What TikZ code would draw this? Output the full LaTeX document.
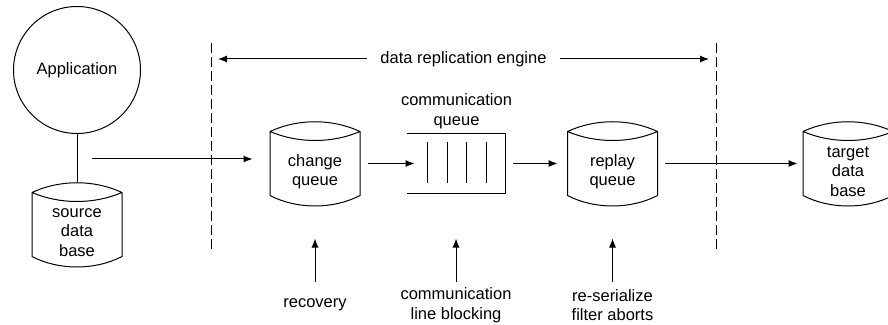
\documentclass[tikz,border=0pt]{standalone}
\usepackage{fontspec}
\setmainfont{Liberation Sans}
\usetikzlibrary{arrows.meta}

\begin{document}
\begin{tikzpicture}[x=1pt,y=1pt,line width=1pt,line join=round,
  >={Latex[length=9pt,width=7pt]},
  every node/.style={font=\fontsize{16.5}{19.5}\selectfont},
  dbase/.style={minimum width=89pt,minimum height=63pt,inner sep=0pt,
    label={[align=center,yshift=-8pt]center:{#1}}},
  note/.style={align=center,minimum height=46pt},
  boundary/.style={dash pattern=on 10pt off 4pt}]
  \useasboundingbox (0,0) rectangle (888,324);
  % application and source
  \node[circle,draw,minimum size=127pt,inner sep=0pt] (app) at (77,254) {Application};
  \node[dbase={source\\data\\base}] (src) at (77,99.5) {};
  % queues and target
  \node[dbase={change\\queue}] (chq) at (315,160.5) {};
  \node[minimum width=98pt,minimum height=59pt,inner sep=0pt] (cq) at (456,160.5) {};
  \node[align=center] (cqtxt) at (456.5,213) {communication\\queue};
  \node[dbase={replay\\queue}] (rpq) at (612.5,160.5) {};
  \node[dbase={target\\data\\base}] (tgt) at (848,160.5) {};
  \foreach \db in {src,chq,rpq,tgt}
    \draw (\db.north west) -- (\db.south west)
      .. controls +(27,-14) and +(-27,-14) .. (\db.south east) -- (\db.north east)
      .. controls +(-28,13) and +(28,13) .. (\db.north west)
      .. controls +(28,-12) and +(-28,-12) .. (\db.north east);
  \draw (cq.north west) -- (cq.north east) -- (cq.south east) -- (cq.south west);
  \foreach \dx in {-29,-9,10,30}
    \draw ([shift={(\dx,21)}]cq.center) -- ([shift={(\dx,-20)}]cq.center);
  % engine boundary
  \coordinate (dlt) at (211,281); \coordinate (dlb) at (211,72);
  \coordinate (drt) at (716.5,281); \coordinate (drb) at (716.5,72);
  \draw[boundary] (dlt) -- (dlb);
  \draw[boundary] (drt) -- (drb);
  \node[inner xsep=13pt] (eng) at (463.5,265) {data replication engine};
  \draw[->,shorten >=7pt] (eng.west) -- (eng.west -| dlt);
  \draw[->,shorten >=7.5pt] (eng.east) -- (eng.east -| drt);
  % flow
  \coordinate (appout) at (92,165);
  \draw (app.south) -- ([yshift=10pt]src.north);
  \draw[->,shorten >=17.5pt] (appout) -- (appout -| chq.west);
  \draw[->,shorten <=8pt,shorten >=-8pt] (chq.east) -- (cq.west);
  \draw[->,shorten <=7pt,shorten >=10pt] (cq.east) -- (rpq.west);
  \draw[->,shorten <=7pt,shorten >=5.5pt] (rpq.east) -- (tgt.west);
  % notes
  \node[note] (rec) at (315,19) {recovery};
  \node[note] (clb) at (456,19) {communication\\line blocking};
  \node[note] (rsf) at (612.5,19) {re-serialize\\filter aborts};
  \draw[->,shorten >=43pt] (rec.north) -- (chq.south);
  \draw[->,shorten >=45pt] (clb.north) -- (cq.south);
  \draw[->,shorten >=43pt] (rsf.north) -- (rpq.south);
\end{tikzpicture}
\end{document}
